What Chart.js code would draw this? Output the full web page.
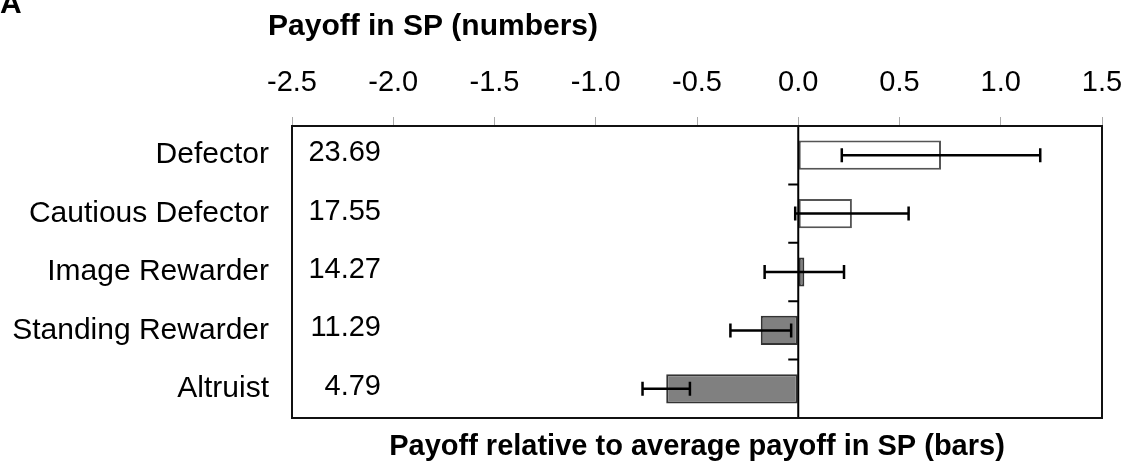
<!DOCTYPE html>
<html>
<head>
<meta charset="utf-8">
<script src="https://cdn.jsdelivr.net/npm/chart.js@4.4.1/dist/chart.umd.min.js"></script>
<style>
  html, body { margin: 0; padding: 0; background: #fff; }
  #wrap { width: 1128px; height: 469px; }
</style>
</head>
<body>
<div id="wrap"><canvas id="c" width="1128" height="469"></canvas></div>
<script>
// ---- data ----
const categories = ['Defector', 'Cautious Defector', 'Image Rewarder', 'Standing Rewarder', 'Altruist'];
const relPayoff = [0.705, 0.265, 0.03, -0.185, -0.652];
const relError = [0.49, 0.28, 0.196, 0.15, 0.117];
const spNumbers = ['23.69', '17.55', '14.27', '11.29', '4.79'];
const xTicks = [-2.5, -2.0, -1.5, -1.0, -0.5, 0.0, 0.5, 1.0, 1.5];

const FONT = "'Liberation Sans', Arial, sans-serif";
const panelLetter = 'A';
const topTitle = 'Payoff in SP (numbers)';
const bottomTitle = 'Payoff relative to average payoff in SP (bars)';

const fills = relPayoff.map((v, i) => i < 2 ? '#ffffff' : '#808080');
const borders = relPayoff.map((v, i) => i < 2 ? '#555555' : '#333333');

const decor = {
  id: 'decor',
  afterDatasetsDraw(chart) {
    const ctx = chart.ctx;
    const x = chart.scales.x, y = chart.scales.y;
    const a = chart.chartArea;
    ctx.save();
    // error bars
    ctx.strokeStyle = '#000';
    ctx.lineWidth = 2.5;
    relPayoff.forEach((v, i) => {
      const py = y.getPixelForValue(i);
      const x1 = x.getPixelForValue(v - relError[i]);
      const x2 = x.getPixelForValue(v + relError[i]);
      ctx.beginPath();
      ctx.moveTo(x1, py); ctx.lineTo(x2, py);
      ctx.moveTo(x1, py - 7); ctx.lineTo(x1, py + 7);
      ctx.moveTo(x2, py - 7); ctx.lineTo(x2, py + 7);
      ctx.stroke();
    });
    // zero line
    const x0 = x.getPixelForValue(0);
    ctx.lineWidth = 2;
    ctx.beginPath();
    ctx.moveTo(x0, a.top); ctx.lineTo(x0, a.bottom);
    ctx.stroke();
    // category boundary ticks on zero line
    const band = (a.bottom - a.top) / categories.length;
    ctx.beginPath();
    for (let k = 0; k <= categories.length; k++) {
      const yy = a.top + k * band;
      ctx.moveTo(x0 - 10, yy); ctx.lineTo(x0, yy);
    }
    ctx.stroke();
    // plot frame
    ctx.strokeStyle = '#111';
    ctx.lineWidth = 2;
    ctx.strokeRect(a.left, a.top, a.right - a.left, a.bottom - a.top);
    // SP numbers
    ctx.fillStyle = '#000';
    ctx.font = '29px ' + FONT;
    ctx.textAlign = 'right';
    ctx.textBaseline = 'middle';
    spNumbers.forEach((s, i) => {
      ctx.fillText(s, a.left + 89, y.getPixelForValue(i) - 2);
    });
    // titles
    ctx.textBaseline = 'alphabetic';
    ctx.textAlign = 'left';
    ctx.font = 'bold 30px ' + FONT;
    ctx.fillText(panelLetter, 0, 13);
    ctx.fillText(topTitle, 268, 35);
    ctx.font = 'bold 29px ' + FONT;
    ctx.textAlign = 'center';
    ctx.fillText(bottomTitle, (a.left + a.right) / 2, 455);
    ctx.restore();
  }
};

new Chart(document.getElementById('c'), {
  type: 'bar',
  data: {
    labels: categories,
    datasets: [{
      data: relPayoff,
      backgroundColor: fills,
      borderColor: borders,
      borderWidth: 2,
      borderSkipped: false,
      barPercentage: 0.5,
      categoryPercentage: 1.0
    }]
  },
  options: {
    indexAxis: 'y',
    responsive: false,
    animation: false,
    devicePixelRatio: 1,
    layout: { padding: { top: 66, left: 0, right: 26, bottom: 51 } },
    plugins: { legend: { display: false }, tooltip: { enabled: false } },
    scales: {
      x: {
        position: 'top',
        min: -2.5, max: 1.5,
        afterBuildTicks: (s) => { s.ticks = xTicks.map(v => ({ value: v })); },
        afterFit: (s) => { s.height = 60; s.paddingLeft = 0; s.paddingRight = 0; },
        ticks: {
          color: '#000',
          font: { family: FONT, size: 29 },
          padding: 17,
          maxRotation: 0,
          callback: (v) => Number(v).toFixed(1)
        },
        grid: { drawOnChartArea: false, drawTicks: true, tickLength: 9, color: '#aaaaaa' },
        border: { display: false }
      },
      y: {
        afterFit: (s) => { s.width = 292; s.paddingTop = 0; s.paddingBottom = 0; },
        ticks: { color: '#000', font: { family: FONT, size: 30 }, padding: 23 },
        grid: { display: false, drawTicks: false },
        border: { display: false }
      }
    }
  },
  plugins: [decor]
});
</script>
</body>
</html>
